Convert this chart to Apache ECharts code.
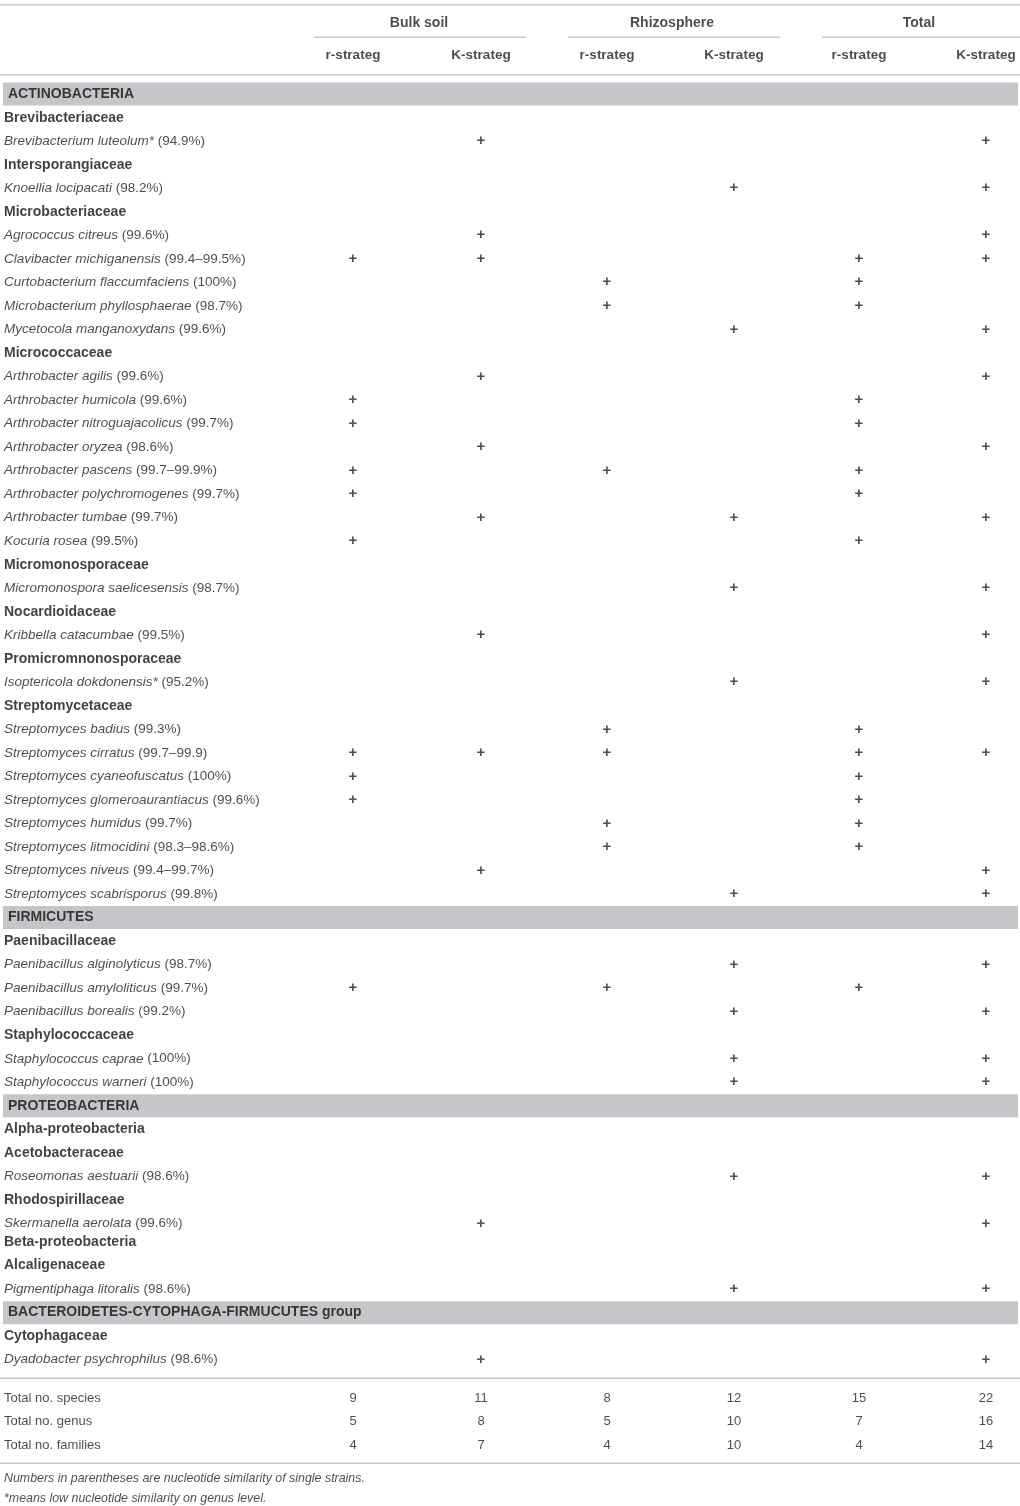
<!DOCTYPE html>
<html><head><meta charset="utf-8">
<script src="https://cdn.jsdelivr.net/npm/echarts@6/dist/echarts.min.js"></script>
<style>html,body{margin:0;padding:0;background:#fff}#c{width:1020px;height:1506px}</style>
</head><body><div id="c"></div>
<script>
// ---------- DATA ----------
const groupHeaders = ['Bulk soil', 'Rhizosphere', 'Total'];
const strategyHeaders = ['r-strateg', 'K-strateg', 'r-strateg', 'K-strateg', 'r-strateg', 'K-strateg'];
// kind: g = phylum band, f = family/class (bold), s = species; marks over [r bulk, K bulk, r rhizo, K rhizo, r total, K total]
const rows = [
  ['g', 'ACTINOBACTERIA'],
  ['f', 'Brevibacteriaceae'],
  ['s', 'Brevibacterium luteolum*', '94.9%', '010001'],
  ['f', 'Intersporangiaceae'],
  ['s', 'Knoellia locipacati', '98.2%', '000101'],
  ['f', 'Microbacteriaceae'],
  ['s', 'Agrococcus citreus', '99.6%', '010001'],
  ['s', 'Clavibacter michiganensis', '99.4–99.5%', '110011'],
  ['s', 'Curtobacterium flaccumfaciens', '100%', '001010'],
  ['s', 'Microbacterium phyllosphaerae', '98.7%', '001010'],
  ['s', 'Mycetocola manganoxydans', '99.6%', '000101'],
  ['f', 'Micrococcaceae'],
  ['s', 'Arthrobacter agilis', '99.6%', '010001'],
  ['s', 'Arthrobacter humicola', '99.6%', '100010'],
  ['s', 'Arthrobacter nitroguajacolicus', '99.7%', '100010'],
  ['s', 'Arthrobacter oryzea', '98.6%', '010001'],
  ['s', 'Arthrobacter pascens', '99.7–99.9%', '101010'],
  ['s', 'Arthrobacter polychromogenes', '99.7%', '100010'],
  ['s', 'Arthrobacter tumbae', '99.7%', '010101'],
  ['s', 'Kocuria rosea', '99.5%', '100010'],
  ['f', 'Micromonosporaceae'],
  ['s', 'Micromonospora saelicesensis', '98.7%', '000101'],
  ['f', 'Nocardioidaceae'],
  ['s', 'Kribbella catacumbae', '99.5%', '010001'],
  ['f', 'Promicromnonosporaceae'],
  ['s', 'Isoptericola dokdonensis*', '95.2%', '000101'],
  ['f', 'Streptomycetaceae'],
  ['s', 'Streptomyces badius', '99.3%', '001010'],
  ['s', 'Streptomyces cirratus', '99.7–99.9', '111011'],
  ['s', 'Streptomyces cyaneofuscatus', '100%', '100010'],
  ['s', 'Streptomyces glomeroaurantiacus', '99.6%', '100010'],
  ['s', 'Streptomyces humidus', '99.7%', '001010'],
  ['s', 'Streptomyces litmocidini', '98.3–98.6%', '001010'],
  ['s', 'Streptomyces niveus', '99.4–99.7%', '010001'],
  ['s', 'Streptomyces scabrisporus', '99.8%', '000101'],
  ['g', 'FIRMICUTES'],
  ['f', 'Paenibacillaceae'],
  ['s', 'Paenibacillus alginolyticus', '98.7%', '000101'],
  ['s', 'Paenibacillus amyloliticus', '99.7%', '101010'],
  ['s', 'Paenibacillus borealis', '99.2%', '000101'],
  ['f', 'Staphylococcaceae'],
  ['s', 'Staphylococcus caprae', '100%', '000101'],
  ['s', 'Staphylococcus warneri', '100%', '000101'],
  ['g', 'PROTEOBACTERIA'],
  ['f', 'Alpha-proteobacteria'],
  ['f', 'Acetobacteraceae'],
  ['s', 'Roseomonas aestuarii', '98.6%', '000101'],
  ['f', 'Rhodospirillaceae'],
  ['s', 'Skermanella aerolata', '99.6%', '010001'],
  ['f', 'Beta-proteobacteria'],
  ['f', 'Alcaligenaceae'],
  ['s', 'Pigmentiphaga litoralis', '98.6%', '000101'],
  ['g', 'BACTEROIDETES-CYTOPHAGA-FIRMUCUTES group'],
  ['f', 'Cytophagaceae'],
  ['s', 'Dyadobacter psychrophilus', '98.6%', '010001']
];
const totalLabels = ['Total no. species', 'Total no. genus', 'Total no. families'];
const totalSpecies = [9, 11, 8, 12, 15, 22];
const totalGenus = [5, 8, 5, 10, 7, 16];
const totalFamilies = [4, 7, 4, 10, 4, 14];
const footnotes = [
  'Numbers in parentheses are nucleotide similarity of single strains.',
  '*means low nucleotide similarity on genus level.'
];

// ---------- LAYOUT (config, not data) ----------
const colX = [353, 481, 607, 734, 859, 986];
const groupX = [419, 672, 919];
const groupSpan = [[314, 526], [568, 780], [822, 1020]];
const headerRow1 = -3.01, headerRow2 = -1.65;
const totalsRow0 = 55.43;
const footRows = [58.86, 59.71];
const tightFrom = 49, tightShift = -0.21;   // the source table sets its last rows slightly closer
const labelX = 4, bandTextX = 8;
const PX_PER_ROW = 23.58, Y_MIN = -4, Y_MAX = 60, ROW0_PX = 91;
const FONT = '"Liberation Sans", Arial, Helvetica, sans-serif';
const TXT = '#1e1e1e';

// ---------- BUILD ----------
const rowY = i => i + (i >= tightFrom ? tightShift : 0);
const leftText = [];
const centerText = [];
const bandRows = [];
const rules = [
  [0, 1020, -3.80, 1.5],
  [0, 1020, -0.81, 1.5],
  [0, 1020, 54.58, 1.5],
  [0, 1020, 58.19, 1.5]
];
groupSpan.forEach(s => rules.push([s[0], s[1], -2.42, 1.5]));

groupHeaders.forEach((h, i) => centerText.push({ value: [groupX[i], headerRow1], label: { formatter: h, fontWeight: 'bold', fontSize: 14 } }));
strategyHeaders.forEach((h, i) => centerText.push({ value: [colX[i], headerRow2], label: { formatter: h, fontWeight: 'bold', fontSize: 13.5 } }));

rows.forEach((r, i) => {
  const kind = r[0], y = rowY(i);
  if (kind === 'g') {
    bandRows.push([y]);
    leftText.push({ value: [bandTextX, y], label: { formatter: r[1], fontWeight: 'bold', fontSize: 14, color: '#111' } });
  } else if (kind === 'f') {
    leftText.push({ value: [labelX, y], label: { formatter: r[1], fontWeight: 'bold', fontSize: 14, color: '#111' } });
  } else {
    leftText.push({ value: [labelX, y], label: { formatter: '{i|' + r[1] + '} (' + r[2] + ')' } });
    r[3].split('').forEach((m, c) => {
      if (m === '1') centerText.push({ value: [colX[c], y], label: { formatter: '+', fontSize: 15, fontWeight: 'bold', color: '#222' } });
    });
  }
});

[totalSpecies, totalGenus, totalFamilies].forEach((arr, k) => {
  const y = totalsRow0 + k;
  leftText.push({ value: [labelX, y], label: { formatter: totalLabels[k], fontSize: 13 } });
  arr.forEach((v, c) => centerText.push({ value: [colX[c], y], label: { formatter: String(v) } }));
});

footnotes.forEach((t, k) => leftText.push({ value: [labelX, footRows[k]], label: { formatter: t, fontStyle: 'italic', fontSize: 12.4 } }));

const gridTop = ROW0_PX + Y_MIN * PX_PER_ROW;
const gridBottom = 1506 - gridTop - (Y_MAX - Y_MIN) * PX_PER_ROW;

const chart = echarts.init(document.getElementById('c'), null, { renderer: 'canvas' });
chart.setOption({
  animation: false,
  backgroundColor: '#fff',
  grid: { left: 0, right: 0, top: gridTop, bottom: gridBottom },
  xAxis: { type: 'value', min: 0, max: 1020, show: false },
  yAxis: { type: 'value', min: Y_MIN, max: Y_MAX, inverse: true, show: false },
  tooltip: { show: false },
  series: [
    {
      type: 'custom', z: 1, silent: true, clip: false,
      data: bandRows,
      renderItem: (params, api) => {
        const p1 = api.coord([3, api.value(0)]);
        const p2 = api.coord([1018, api.value(0)]);
        const h = 23;
        return { type: 'rect', shape: { x: p1[0], y: p1[1] - h / 2, width: p2[0] - p1[0], height: h }, style: { fill: '#c5c6c9' } };
      }
    },
    {
      type: 'custom', z: 2, silent: true, clip: false,
      data: rules,
      renderItem: (params, api) => {
        const a = api.coord([api.value(0), api.value(2)]);
        const b = api.coord([api.value(1), api.value(2)]);
        return { type: 'line', shape: { x1: a[0], y1: a[1], x2: b[0], y2: b[1] }, style: { stroke: '#c8c8c8', lineWidth: api.value(3) } };
      }
    },
    {
      type: 'scatter', z: 3, silent: true, clip: false, symbolSize: 0,
      data: leftText,
      label: {
        show: true, position: 'right', distance: 0, align: 'left', verticalAlign: 'middle',
        fontFamily: FONT, fontSize: 13.5, color: TXT,
        rich: { i: { fontStyle: 'italic', fontFamily: FONT, fontSize: 13.5, color: TXT } }
      }
    },
    {
      type: 'scatter', z: 3, silent: true, clip: false, symbolSize: 0,
      data: centerText,
      label: {
        show: true, position: 'inside', align: 'center', verticalAlign: 'middle',
        fontFamily: FONT, fontSize: 13, color: TXT
      }
    }
  ]
});
</script>
</body></html>
